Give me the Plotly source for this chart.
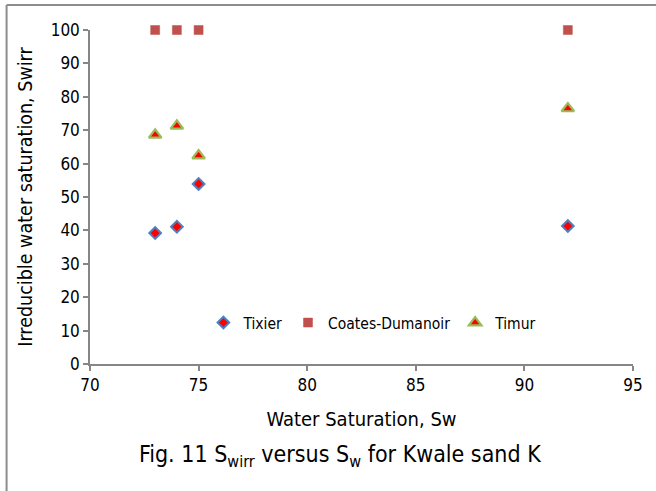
import plotly.graph_objects as go

sw = [73, 74, 75, 92]
tixier = [39.2, 41.1, 53.9, 41.3]
coates = [100, 100, 100, 100]
timur = [68.6, 71.3, 62.4, 76.5]

x_ticks = [70, 75, 80, 85, 90, 95]
y_ticks = [0, 10, 20, 30, 40, 50, 60, 70, 80, 90, 100]

FONT = "Tahoma, 'DejaVu Sans Condensed', 'DejaVu Sans', sans-serif"
AX = "#868686"

fig = go.Figure()
fig.add_trace(go.Scatter(x=sw, y=tixier, mode="markers", name="Tixier", cliponaxis=False,
                         marker=dict(symbol="diamond", size=9, color="#FF0000",
                                     line=dict(color="#4F81BD", width=2))))
fig.add_trace(go.Scatter(x=sw, y=coates, mode="markers", name="Coates-Dumanoir", cliponaxis=False,
                         marker=dict(symbol="square", size=9, color="#C0504D",
                                     line=dict(color="#C0504D", width=0.5))))
fig.add_trace(go.Scatter(x=sw, y=timur, mode="markers", name="Timur", cliponaxis=False,
                         marker=dict(symbol="triangle-up", size=11, color="#FF0000",
                                     line=dict(color="#9BBB59", width=2.2))))

L, R, T, B = 89.5, 23, 30, 127
W, H = 656, 491
pw = W - L - R
ph = H - T - B

def px(x):
    return (x - L) / pw

def py(y):
    return (H - B - y) / ph

fig.update_layout(
    width=W, height=H,
    margin=dict(l=L, r=R, t=T, b=B, pad=0),
    paper_bgcolor="white", plot_bgcolor="white",
    font=dict(family=FONT, size=17, color="#000000"),
    showlegend=True,
    legend=dict(orientation="h", x=px(203), y=py(323), xanchor="left", yanchor="middle",
                font=dict(size=15.5), bgcolor="rgba(0,0,0,0)", itemwidth=30,
                tracegroupgap=0),
    xaxis=dict(range=[70, 95], tickvals=x_ticks, ticktext=[str(v) for v in x_ticks],
               showgrid=False, zeroline=False, showline=True, linecolor=AX, linewidth=1.5,
               ticks="outside", ticklen=5, tickcolor=AX, tickwidth=1.5,
               tickfont=dict(size=17),
               title=dict(text="Water Saturation, Sw", font=dict(size=20), standoff=18)),
    yaxis=dict(range=[0, 100], tickvals=y_ticks, ticktext=[str(v) for v in y_ticks],
               showgrid=False, zeroline=False, showline=True, linecolor=AX, linewidth=1.5,
               ticks="outside", ticklen=5, tickcolor=AX, tickwidth=1.5,
               tickfont=dict(size=17),
               title=dict(text="Irreducible water saturation, Swirr", font=dict(size=19.5), standoff=13)),
    annotations=[dict(text="Fig. 11 S<sub>wirr</sub> versus S<sub>w</sub> for Kwale sand K",
                      xref="paper", yref="paper", x=px(340), y=py(456),
                      xanchor="center", yanchor="middle", showarrow=False,
                      font=dict(size=23))],
    shapes=[
        dict(type="line", xref="paper", yref="paper", x0=px(6), x1=px(6), y0=py(5), y1=py(491),
             line=dict(color="#8C8C8C", width=2)),
        dict(type="line", xref="paper", yref="paper", x0=px(6), x1=px(656), y0=py(5), y1=py(5),
             line=dict(color="#8C8C8C", width=2)),
    ],
)

fig.write_html("out.html", config={"displayModeBar": False},
               post_script="document.body.style.margin='0px';")
